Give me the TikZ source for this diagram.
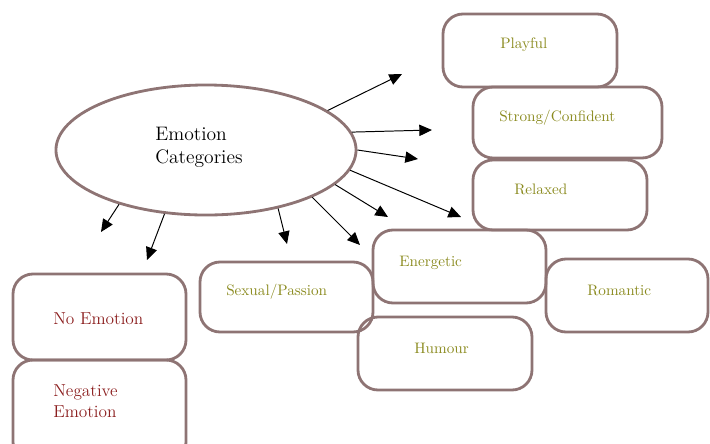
\documentclass[tikz,border=0pt]{standalone}
\usepackage{xcolor}
\usetikzlibrary{shapes.geometric,arrows.meta}
\definecolor{edgebrown}{HTML}{8E7474}
\definecolor{olivetext}{HTML}{8A8A1E}
\definecolor{redtext}{HTML}{8B1E1E}

\tikzset{
  catbox/.style={draw=edgebrown, line width=2pt, rounded corners=0.5cm},
  poslbl/.style={text=olivetext, font=\fontsize{10.8}{13}\selectfont, inner sep=0pt, anchor=mid west},
  neglbl/.style={text=redtext, font=\fontsize{12.3}{15}\selectfont, inner sep=0pt, align=left},
  spoke/.style={line width=0.7pt, -{Triangle[length=9pt,width=8pt]}}
}

\begin{document}
\begin{tikzpicture}[x=0.025cm, y=-0.025cm]
  \useasboundingbox (0,0) rectangle (710,443);
  \clip (0,0) rectangle (710,443);
  % centre
  \node[ellipse, draw=edgebrown, line width=2pt, minimum width=7.5cm, minimum height=3.25cm, inner sep=0pt] (cat) at (206,150) {};
  \node[align=left, inner sep=0pt, anchor=north west, font=\fontsize{13.9}{16.5}\selectfont] (cattext) at (155,127) {Emotion\\Categories};
  % boxes
  \draw[catbox] (443,14) rectangle (617,87);
  \draw[catbox] (473,87) rectangle (662,158);
  \draw[catbox] (473,160) rectangle (647,230);
  \draw[catbox] (373,230) rectangle (546,303);
  \draw[catbox] (546,259) rectangle (708,332);
  \draw[catbox] (358,317) rectangle (532,390);
  \draw[catbox] (200,262) rectangle (373,332);
  \draw[catbox] (13,274) rectangle (186,360);
  \draw[catbox] (13,360) rectangle (186,462);
  % labels
  \node[poslbl] (playful) at (500,45) {Playful};
  \node[poslbl] (strong) at (499,118) {Strong/Confident};
  \node[poslbl] (relaxed) at (514,191) {Relaxed};
  \node[poslbl] (energetic) at (399,263) {Energetic};
  \node[poslbl] (romantic) at (587,292) {Romantic};
  \node[poslbl] (humour) at (414,350) {Humour};
  \node[poslbl] (sexual) at (226,292) {Sexual/Passion};
  \node[neglbl, anchor=mid west] (noemo) at (53,321) {No Emotion};
  \node[neglbl, anchor=north west] (negemo) at (53,384) {Negative\\Emotion};
  % arrow tips
  \coordinate (t1) at (402,74);
  \coordinate (t2) at (432,130);
  \coordinate (t3) at (418,159);
  \coordinate (t4) at (461,217);
  \coordinate (t5) at (388,217);
  \coordinate (t6) at (360,245);
  \coordinate (t7) at (287,244);
  \coordinate (t8) at (147,260);
  \coordinate (t9) at (101,232);
  \draw[spoke] (cat.18.6) -- (t1);
  \draw[spoke] (cat.7.8) -- (t2);
  \draw[spoke] (cat.-0.4) -- (t3);
  \draw[spoke] (cat.-8.4) -- (t4);
  \draw[spoke] (cat.-15.7) -- (t5);
  \draw[spoke] (cat.-24.8) -- (t6);
  \draw[spoke] (cat.-39.6) -- (t7);
  \draw[spoke] (cat.-123) -- (t8);
  \draw[spoke] (cat.-148.7) -- (t9);
\end{tikzpicture}
\end{document}
